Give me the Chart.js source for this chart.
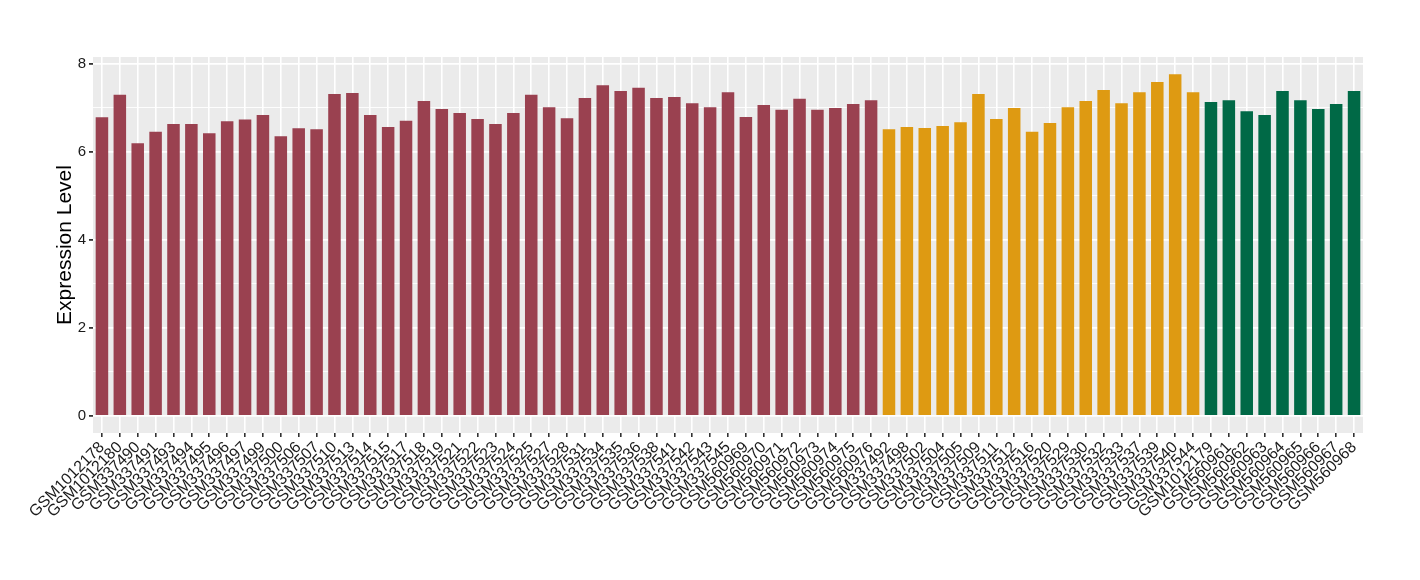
<!DOCTYPE html>
<html>
<head>
<meta charset="utf-8">
<script src="https://cdn.jsdelivr.net/npm/chart.js@4/dist/chart.umd.min.js"></script>
<style>
  html, body { margin: 0; padding: 0; background: #fff; }
  #wrap { width: 1420px; height: 580px; }
</style>
</head>
<body>
<div id="wrap"><canvas id="chart"></canvas></div>
<script>
const samples = [
  'GSM1012178','GSM1012180','GSM337490','GSM337491','GSM337493','GSM337494','GSM337495','GSM337496',
  'GSM337497','GSM337499','GSM337500','GSM337506','GSM337507','GSM337510','GSM337513','GSM337514',
  'GSM337515','GSM337517','GSM337518','GSM337519','GSM337521','GSM337522','GSM337523','GSM337524',
  'GSM337525','GSM337527','GSM337528','GSM337531','GSM337534','GSM337535','GSM337536','GSM337538',
  'GSM337541','GSM337542','GSM337543','GSM337545','GSM560969','GSM560970','GSM560971','GSM560972',
  'GSM560973','GSM560974','GSM560975','GSM560976',
  'GSM337492','GSM337498','GSM337502','GSM337504','GSM337505','GSM337509','GSM337511','GSM337512',
  'GSM337516','GSM337520','GSM337529','GSM337530','GSM337532','GSM337533','GSM337537','GSM337539',
  'GSM337540','GSM337544',
  'GSM1012179','GSM560961','GSM560962','GSM560963','GSM560964','GSM560965','GSM560966','GSM560967',
  'GSM560968'
];

const expression = [
  6.78, 7.29, 6.19, 6.45, 6.63, 6.63, 6.42, 6.69, 6.73, 6.83, 6.35, 6.53, 6.51, 7.31, 7.33, 6.83,
  6.56, 6.70, 7.15, 6.97, 6.88, 6.74, 6.63, 6.88, 7.29, 7.01, 6.76, 7.22, 7.51, 7.38, 7.45, 7.22,
  7.24, 7.10, 7.01, 7.35, 6.79, 7.06, 6.95, 7.20, 6.95, 6.99, 7.08, 7.17,
  6.51, 6.56, 6.54, 6.58, 6.67, 7.31, 6.74, 6.99, 6.45, 6.65, 7.01, 7.15, 7.40, 7.10, 7.35, 7.58,
  7.76, 7.35,
  7.13, 7.17, 6.92, 6.83, 7.38, 7.17, 6.97, 7.08, 7.38
];

// group of each sample: 0 = first block, 1 = second, 2 = third
const groups = [
  0,0,0,0,0,0,0,0,0,0,0,0,0,0,0,0,0,0,0,0,0,0,0,0,0,0,0,0,0,0,0,0,0,0,0,0,0,0,0,0,0,0,0,0,
  1,1,1,1,1,1,1,1,1,1,1,1,1,1,1,1,1,1,
  2,2,2,2,2,2,2,2,2
];
const groupColors = ['#9A4150', '#DE9A12', '#006946'];

const yTicks = [0, 1, 2, 3, 4, 5, 6, 7, 8];

const panelBg = {
  id: 'panelBg',
  beforeDraw(chart) {
    const { ctx, chartArea: a } = chart;
    ctx.save();
    ctx.fillStyle = '#EBEBEB';
    ctx.fillRect(a.left, a.top, a.right - a.left, a.bottom - a.top);
    ctx.restore();
  }
};

new Chart(document.getElementById('chart'), {
  type: 'bar',
  data: {
    labels: samples,
    datasets: [{
      data: expression,
      backgroundColor: groups.map(g => groupColors[g]),
      categoryPercentage: 1,
      barPercentage: 0.7,
      borderWidth: 0
    }]
  },
  options: {
    responsive: true,
    maintainAspectRatio: false,
    animation: false,
    layout: { padding: { left: 53, right: 57, top: 57, bottom: 47 } },
    plugins: { legend: { display: false }, tooltip: { enabled: false } },
    scales: {
      x: {
        grid: {
          offset: false,
          color: '#FFFFFF',
          lineWidth: 1.6,
          drawTicks: true,
          tickLength: 4,
          tickColor: '#333333'
        },
        border: { display: false },
        ticks: {
          autoSkip: false,
          maxRotation: 45,
          minRotation: 45,
          padding: 1,
          color: '#1A1A1A',
          font: { family: 'Liberation Sans', size: 16 }
        },
        afterFit(scale) { scale.height = 100; }
      },
      y: {
        min: -0.39,
        max: 8.15,
        afterBuildTicks(scale) { scale.ticks = yTicks.map(v => ({ value: v })); },
        grid: {
          color: '#FFFFFF',
          lineWidth: c => (c.tick && c.tick.value % 2 === 0 ? 1.8 : 0.9),
          drawTicks: true,
          tickLength: 4,
          tickColor: c => (c.tick && c.tick.value % 2 === 0 ? '#333333' : 'rgba(0,0,0,0)')
        },
        border: { display: false },
        ticks: {
          padding: 3,
          color: '#1A1A1A',
          font: { family: 'Liberation Sans', size: 15 },
          callback: v => (v % 2 === 0 ? v : '')
        },
        title: {
          display: true,
          text: 'Expression Level',
          color: '#000000',
          font: { family: 'Liberation Sans', size: 21 },
          padding: { top: 0, bottom: 4 }
        },
        afterFit(scale) { scale.width = 40; }
      }
    }
  },
  plugins: [panelBg]
});
</script>
</body>
</html>
